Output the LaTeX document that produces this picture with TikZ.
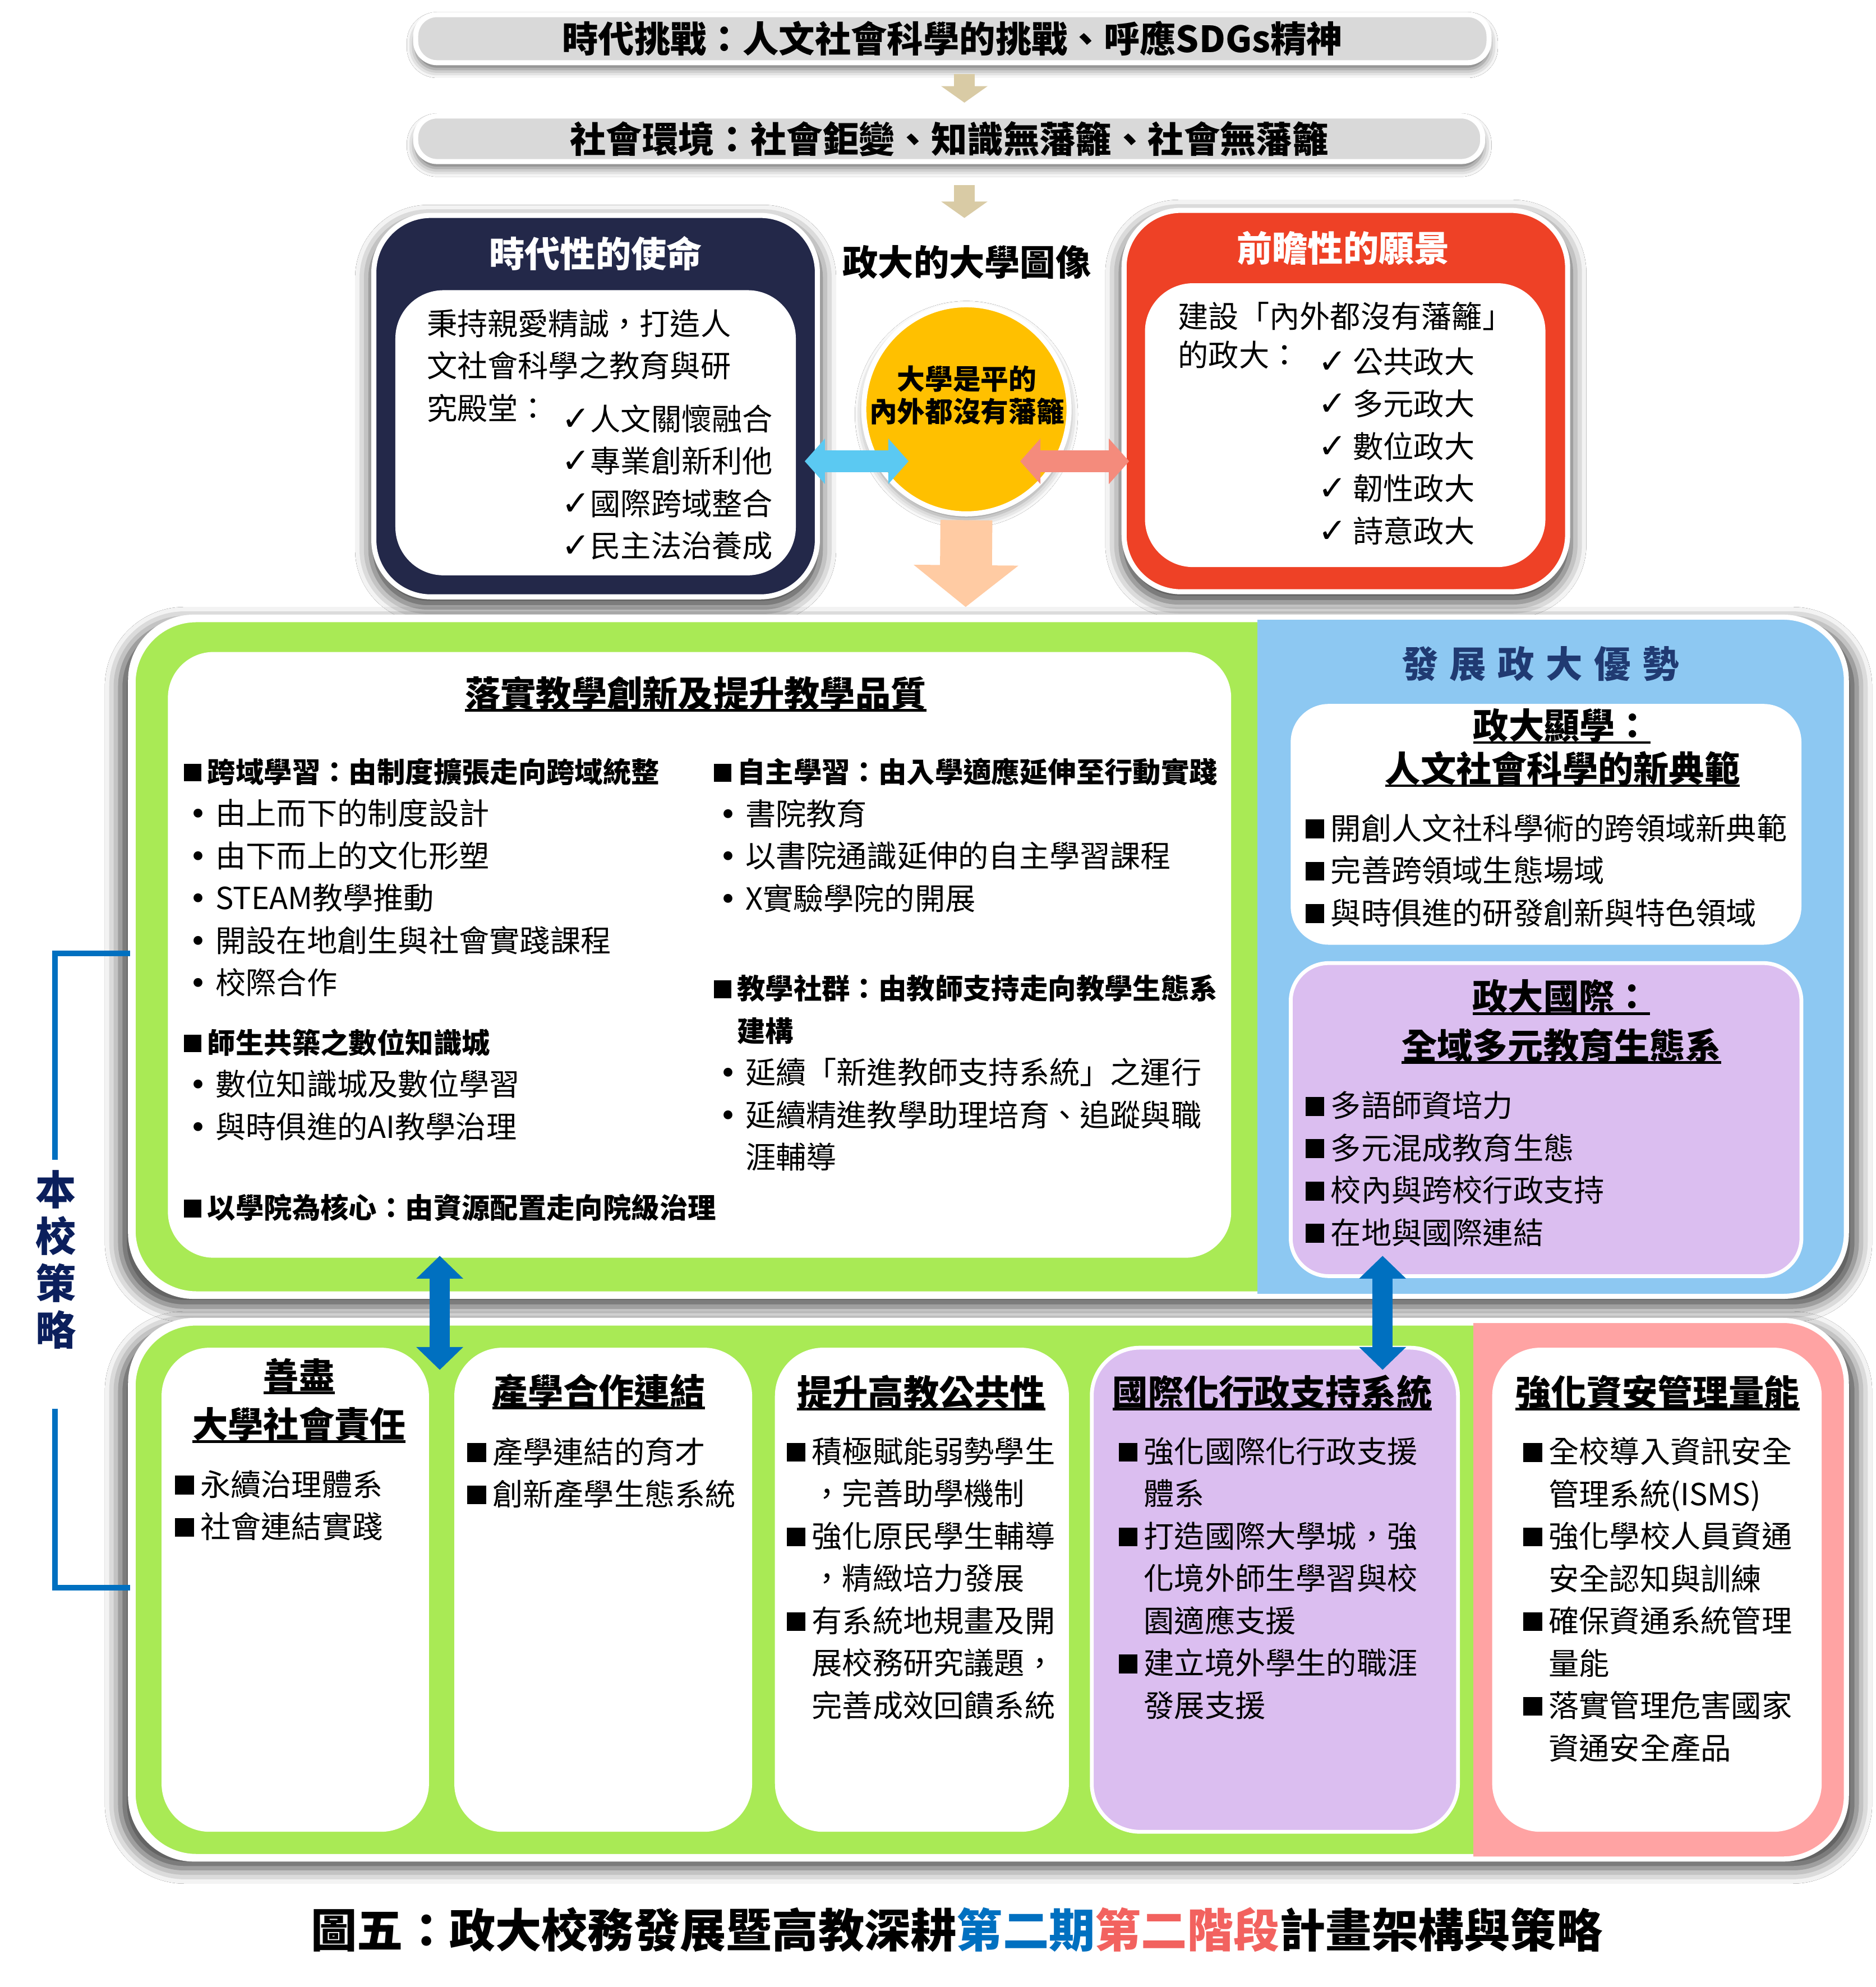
\documentclass[tikz,border=0pt]{standalone}
\usepackage{fontspec}
\setmainfont{Noto Sans CJK TC}
\newfontfamily\dejavu{DejaVu Sans}
\usetikzlibrary{shapes.geometric,arrows.meta,shadows.blur}

\definecolor{navy}{HTML}{232849}
\definecolor{redbox}{HTML}{EE4126}
\definecolor{gold}{HTML}{FFC000}
\definecolor{lgreen}{HTML}{A9EA55}
\definecolor{lblue}{HTML}{8DC8F2}
\definecolor{lav}{HTML}{DBBEF0}
\definecolor{pinkbg}{HTML}{FFA3A3}
\definecolor{tanc}{HTML}{D9CBA5}
\definecolor{peach}{HTML}{FFCBA3}
\definecolor{sky}{HTML}{5BC9F2}
\definecolor{salmon}{HTML}{F48B7C}
\definecolor{dblue}{HTML}{0070C0}
\definecolor{ttlblue}{HTML}{203A72}
\definecolor{navytxt}{HTML}{0B1F5C}
\definecolor{capred}{HTML}{F2625F}
\definecolor{pillgray}{HTML}{D9D9D9}

\newcommand{\sq}{\raisebox{0.04em}{\rule{0.62em}{0.62em}}\hspace{0.21em}}
\newcommand{\sqsp}{\hspace*{0.83em}}
\newcommand{\bul}{\makebox[1.04em][l]{\hspace{0.18em}{\dejavu •}}}
\newcommand{\ck}{{\dejavu\fontsize{27}{30}\selectfont ✓}}
\newcommand{\myul}[1]{\setbox0\hbox{#1}\rlap{\rule[-0.14em]{\wd0}{0.075em}}\box0}
\newcommand{\hdf}{\bfseries\fontsize{22.3}{33.4}\selectfont}

\tikzset{
  pill/.style={fill=pillgray, draw=white, line width=4pt, rounded corners=17pt, inner sep=0,
    blur shadow={shadow xshift=0pt, shadow yshift=-5pt, shadow blur radius=7pt, shadow opacity=60},
    font=\bfseries\fontsize{28.5}{34}\selectfont},
  cont/.style={draw=white, line width=4pt, rounded corners=#1, inner sep=0, anchor=north west,
    blur shadow={shadow xshift=0pt, shadow yshift=-6pt, shadow scale=1.015, shadow blur radius=12pt, shadow opacity=75}},
  card/.style={draw=white, line width=3pt, rounded corners=#1, inner sep=0, anchor=north west},
  ttl/.style={inner sep=0, font=\bfseries\fontsize{28}{34}\selectfont},
  blk/.style={inner sep=0, anchor=north west, align=left, font=\fontsize{24}{33.4}\selectfont},
  tanarr/.style={draw=tanc, line width=16pt, -{Triangle[width=36pt,length=13pt]}},
  dblarr/.style={line width=17pt, {Triangle[width=35pt,length=16pt]}-{Triangle[width=35pt,length=16pt]}},
  vblarr/.style={draw=dblue, line width=16pt, {Triangle[width=36pt,length=18pt]}-{Triangle[width=36pt,length=18pt]}},
  brk/.style={draw=dblue, line width=4.5pt},
}

\begin{document}
\begin{tikzpicture}[x=1pt,y=-1pt]
\fill[white] (0,0) rectangle (1480,1568);
\useasboundingbox (0,0) rectangle (1480,1568);

% ---------- top pills ----------
\node[pill, minimum width=847, minimum height=38] (t1) at (751.5,30.5) {時代挑戰：人文社會科學的挑戰、呼應SDGs精神};
\node[pill, minimum width=842, minimum height=36] (t2) at (749,109.5) {社會環境：社會鉅變、知識無藩籬、社會無藩籬};

% ---------- university image ----------
\node[ttl] (img) at (763,207) {政大的大學圖像};
\coordinate (a2e) at (761,172);
\draw[tanarr, shorten <=7pt, shorten >=8.5pt] (t1.south -| a2e) -- (t2.north -| a2e);
\draw[tanarr, shorten <=16.5pt] (t2.south -| a2e) -- (a2e);

% left box
\node[cont=45pt, fill=navy, minimum width=350, minimum height=301] (lbox) at (293,168) {};
\node[ttl, text=white] (lttl) at (470,200) {時代性的使命};
\node[card=38pt, draw=none, fill=white, minimum width=316, minimum height=225] (lin) at (310.5,227.5) {};
\node[blk] (ltx) at (336.6,244) {秉持親愛精誠，打造人\\文社會科學之教育與研\\究殿堂：};
\node[blk] (lck) at (443,319) {\ck{}人文關懷融合\\\ck{}專業創新利他\\\ck{}國際跨域整合\\\ck{}民主法治養成};

% right box
\node[cont=45pt, fill=redbox, minimum width=350, minimum height=301] (rbox) at (885,164) {};
\node[ttl, text=white] (rttl) at (1060,196) {前瞻性的願景};
\node[card=38pt, draw=none, fill=white, minimum width=316, minimum height=224] (rin) at (902,222) {};
\node[blk, font=\fontsize{24}{30.5}\selectfont] (rtx) at (929.5,238) {建設「內外都沒有藩籬」\\的政大：};
\node[blk] (rck) at (1040,274) {\ck\hspace{0.2em}公共政大\\\ck\hspace{0.2em}多元政大\\\ck\hspace{0.2em}數位政大\\\ck\hspace{0.2em}韌性政大\\\ck\hspace{0.2em}詩意政大};

% ellipse
\node[ellipse, fill=gold, draw=white, line width=4pt, minimum width=162, minimum height=165, inner sep=0,
  blur shadow={shadow xshift=0pt, shadow yshift=-4pt, shadow blur radius=7pt, shadow opacity=45}] (ell) at (762.6,323) {};
\node[inner sep=0, align=center, font=\bfseries\fontsize{22}{25.5}\selectfont] (elt) at (763,312) {大學是平的\\內外都沒有藩籬};

\coordinate (ba1) at (635,364);
\coordinate (ba2) at (717,364);
\coordinate (sa1) at (805,364);
\coordinate (sa2) at (891,364);
\draw[dblarr, draw=sky] (ba1) -- (ba2);
\draw[dblarr, draw=salmon] (sa1) -- (sa2);

\coordinate (pk) at (762,479);
\draw[draw=peach, line width=41pt, -{Triangle[width=81pt,length=33pt]}, shorten <=3pt] (ell.south) -- (pk);

% ---------- middle container ----------
\node[cont=50pt, fill=lgreen, minimum width=1350, minimum height=532] (mid) at (103,487) {};
\begin{scope}
  \clip[rounded corners=50pt] (mid.north west) rectangle (mid.south east);
  \fill[lblue] (992,480) rectangle (1460,1030);
\end{scope}
\draw[white, line width=4pt, rounded corners=50pt] (mid.north west) rectangle (mid.south east);

\node[card=36pt, draw=none, fill=white, minimum width=839, minimum height=478] (tq) at (131,513) {};
\node[ttl] (tqt) at (549,547.5) {\myul{落實教學創新及提升教學品質}};
\node[blk] (ta) at (145,598) {{\hdf\sq 跨域學習：由制度擴張走向跨域統整}\\\bul 由上而下的制度設計\\\bul 由下而上的文化形塑\\\bul STEAM教學推動\\\bul 開設在地創生與社會實踐課程\\\bul 校際合作};
\node[blk] (tb) at (145,811.5) {{\hdf\sq 師生共築之數位知識城}\\\bul 數位知識城及數位學習\\\bul 與時俱進的AI教學治理};
\node[blk] (tc) at (145,942) {{\hdf\sq 以學院為核心：由資源配置走向院級治理}};
\node[blk] (td) at (563,598) {{\hdf\sq 自主學習：由入學適應延伸至行動實踐}\\\bul 書院教育\\\bul 以書院通識延伸的自主學習課程\\\bul X實驗學院的開展};
\node[blk] (te) at (563,769) {{\hdf\sq 教學社群：由教師支持走向教學生態系}\\{\hdf\sqsp 建構}\\\bul 延續「新進教師支持系統」之運行\\\bul 延續精進教學助理培育、追蹤與職\\\hspace*{1.04em}涯輔導};

% blue region
\node[inner sep=0, text=ttlblue, font=\bfseries\fontsize{29}{34}\selectfont] (adv) at (1215.5,524) {發\hspace{9pt}展\hspace{9pt}政\hspace{9pt}大\hspace{9pt}優\hspace{9pt}勢};
\node[card=30pt, draw=none, fill=white, minimum width=403, minimum height=190] (ws) at (1017,554) {};
\node[ttl] (wst1) at (1232.5,573) {\myul{政大顯學：}};
\node[ttl] (wst2) at (1233,607) {\myul{人文社會科學的新典範}};
\node[blk] (wsb) at (1030,642) {\sq 開創人文社科學術的跨領域新典範\\\sq 完善跨領域生態場域\\\sq 與時俱進的研發創新與特色領域};
\node[card=30pt, fill=lav, minimum width=403, minimum height=247] (gi) at (1017,758.5) {};
\node[ttl] (git1) at (1232,787) {\myul{政大國際：}};
\node[ttl] (git2) at (1232,825.5) {\myul{全域多元教育生態系}};
\node[blk] (gib) at (1030,861) {\sq 多語師資培力\\\sq 多元混成教育生態\\\sq 校內與跨校行政支持\\\sq 在地與國際連結};

% ---------- bottom container ----------
\node[cont=50pt, fill=lgreen, minimum width=1350, minimum height=421] (bot) at (103,1042) {};
\begin{scope}
  \clip[rounded corners=50pt] (bot.north west) rectangle (bot.south east);
  \fill[pinkbg] (1162.5,1030) rectangle (1460,1470);
\end{scope}
\draw[white, line width=4pt, rounded corners=50pt] (bot.north west) rectangle (bot.south east);

\node[card=38pt, draw=none, fill=white, minimum width=211, minimum height=382] (c1) at (126,1062) {};
\node[card=38pt, draw=none, fill=white, minimum width=235, minimum height=382] (c2) at (357,1062) {};
\node[card=38pt, draw=none, fill=white, minimum width=232, minimum height=382] (c3) at (610,1062) {};
\node[card=38pt, fill=lav, minimum width=289, minimum height=382] (c4) at (860,1062) {};
\node[card=38pt, draw=none, fill=white, minimum width=260, minimum height=382] (c5) at (1176,1062) {};

\node[ttl] (c1t1) at (236,1086) {\myul{善盡}};
\node[ttl] (c1t2) at (236,1124.5) {\myul{大學社會責任}};
\node[ttl] (c2t) at (472.5,1098) {\myul{產學合作連結}};
\node[ttl] (c3t) at (727,1099) {\myul{提升高教公共性}};
\node[ttl] (c4t) at (1004,1099) {\myul{國際化行政支持系統}};
\node[ttl] (c5t) at (1308,1099) {\myul{強化資安管理量能}};

\node[blk] (c1b) at (138,1160) {\sq 永續治理體系\\\sq 社會連結實踐};
\node[blk] (c2b) at (368.5,1134) {\sq 產學連結的育才\\\sq 創新產學生態系統};
\node[blk] (c3b) at (620.5,1134) {\sq 積極賦能弱勢學生\\\sqsp ，完善助學機制\\\sq 強化原民學生輔導\\\sqsp ，精緻培力發展\\\sq 有系統地規畫及開\\\sqsp 展校務研究議題，\\\sqsp 完善成效回饋系統};
\node[blk] (c4b) at (882.5,1134) {\sq 強化國際化行政支援\\\sqsp 體系\\\sq 打造國際大學城，強\\\sqsp 化境外師生學習與校\\\sqsp 園適應支援\\\sq 建立境外學生的職涯\\\sqsp 發展支援};
\node[blk] (c5b) at (1202,1134) {\sq 全校導入資訊安全\\\sqsp 管理系統(ISMS)\\\sq 強化學校人員資通\\\sqsp 安全認知與訓練\\\sq 確保資通系統管理\\\sqsp 量能\\\sq 落實管理危害國家\\\sqsp 資通安全產品};

% ---------- blue double arrows between containers ----------
\coordinate (d1t) at (347,991);
\coordinate (d1b) at (347,1081);
\coordinate (d2t) at (1091,991);
\coordinate (d2b) at (1091,1081);
\draw[vblarr] (d1t) -- (d1b);
\draw[vblarr] (d2t) -- (d2b);

% ---------- bracket ----------
\node[inner sep=0, align=center, text=navytxt, font=\bfseries\fontsize{32}{37}\selectfont] (strat) at (44,994) {本\\校\\策\\略};
\coordinate (br1) at (102.5,752.5);
\coordinate (br2) at (102.5,1253);
\draw[brk] (br1) -- (43.5,752.5) -- (43.5,915);
\draw[brk] (43.5,1111.5) -- (43.5,1253) -- (br2);

% ---------- caption ----------
\node[inner sep=0, font=\bfseries\fontsize{36.4}{40}\selectfont] (cap) at (755,1523) {圖五：政大校務發展暨高教深耕\textcolor{dblue}{第二期}\textcolor{capred}{第二階段}計畫架構與策略};
\end{tikzpicture}
\end{document}
